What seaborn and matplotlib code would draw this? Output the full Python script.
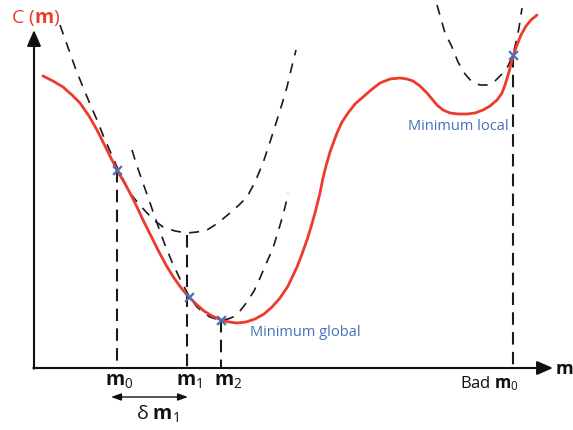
import matplotlib
matplotlib.use("Agg")
import matplotlib.pyplot as plt
import seaborn as sns

sns.set_theme(style="white")
plt.rcParams['font.family'] = ['Open Sans', 'DejaVu Sans']
plt.rcParams['mathtext.fontset'] = 'custom'
plt.rcParams['mathtext.rm'] = 'Open Sans'
plt.rcParams['mathtext.bf'] = 'Open Sans:bold'
plt.rcParams['mathtext.it'] = 'Open Sans:italic'

# Misfit curve C(m) (diagram coordinates, y grows downward)
curve_x = [43, 53, 63, 72, 80, 89, 97, 107, 117, 124, 130, 137, 143, 150, 158, 166, 174,
           182, 189, 196, 204, 212, 221, 229, 237, 246, 255, 264, 272, 280, 288, 297, 302,
           307, 311, 315, 320, 323, 326, 330, 334, 337, 342, 348, 355, 363, 371, 380, 390, 400,
           407, 413, 420, 427, 432, 437, 443, 450, 458, 467, 475, 483, 490, 497, 502, 505,
           509, 513, 517, 521, 526, 531, 537]
curve_y = [76, 81, 87, 95, 103, 116, 130, 150, 170, 182, 193, 207, 220, 234, 250, 265, 278,
           289, 297, 304, 311, 316, 320, 322, 323, 322, 319, 314, 307, 298, 286, 267, 254,
           240, 227, 213, 193, 178, 166, 152, 141, 133, 122, 113, 104, 97, 90, 83, 79, 78,
           79, 81, 86, 93, 99, 105, 110, 113, 114, 114, 113, 110, 106, 100, 93, 85,
           72, 56, 45, 35, 26, 20, 15]

# Quadratic approximations (dashed)
par1_x = [60, 65, 70, 76, 83, 90, 97, 103, 110, 117, 124, 130, 138, 147, 155, 163, 175, 187,
          197, 207, 218, 230, 239, 247, 255, 263, 270, 277, 282, 287, 291, 296]
par1_y = [25, 39, 53, 70, 87, 104, 120, 135, 151, 167, 181, 193, 203, 213, 221, 227, 231, 233,
          232, 230, 223, 213, 205, 197, 182, 163, 142, 120, 104, 87, 70, 50]
par2_x = [132, 137, 143, 150, 157, 165, 172, 180, 189, 197, 204, 210, 216, 222, 228, 233, 240,
          247, 254, 260, 266, 273, 278, 283, 286, 288]
par2_y = [150, 166, 183, 203, 223, 245, 262, 279, 296, 307, 313, 317, 319, 320, 319, 317, 311,
          302, 291, 278, 264, 248, 232, 215, 203, 193]
par3_x = [437, 441, 445, 452, 458, 465, 472, 480, 488, 494, 498, 503, 508, 513, 516, 519, 522]
par3_y = [5, 19, 33, 47, 62, 74, 82, 85, 85, 82, 78, 73, 66, 55, 42, 28, 8]

# Iterates
pts_x = [117, 189, 221, 513]
pts_y = [170, 297, 320, 55]
drop_top = [170, 235, 320, 55]
drop_x = [117, 187, 221, 513]
axis_y = 368
axis_x = 34

red = "#ec3b2c"
blue = "#4470bd"
ink = "#1a1a1a"

fig = plt.figure(figsize=(5.73, 4.30), dpi=100)
ax = fig.add_axes([0, 0, 1, 1])
ax.set_xlim(0, 573)
ax.set_ylim(430, 0)
ax.axis("off")

for px, py in [(par1_x, par1_y), (par2_x, par2_y), (par3_x, par3_y)]:
    sns.lineplot(x=px, y=py, sort=False, ax=ax, color=ink, lw=1.2,
                 linestyle=(0, (6, 5)), estimator=None)

for dx, dt in zip(drop_x, drop_top):
    sns.lineplot(x=[dx, dx], y=[dt, axis_y], sort=False, ax=ax, color=ink,
                 lw=1.5, linestyle=(0, (6, 3.5)), estimator=None)

sns.lineplot(x=curve_x, y=curve_y, sort=False, ax=ax, color=red, lw=2.0, estimator=None)
for l in ax.lines:
    l.set_solid_joinstyle("round")
    l.set_solid_capstyle("round")
sns.scatterplot(x=pts_x, y=pts_y, ax=ax, marker="x", color=blue, s=40, linewidth=1.6, zorder=5)

# axes arrows
arrow = dict(arrowstyle="-|>,head_length=0.8,head_width=0.35", color="#111111", lw=1.5,
             shrinkA=0, shrinkB=0)
ax.annotate("", xy=(axis_x, 30), xytext=(axis_x, axis_y + 0.7), arrowprops=arrow)
ax.annotate("", xy=(553, axis_y), xytext=(axis_x - 0.7, axis_y), arrowprops=arrow)

ax.text(11, 18, r"C ($\mathbf{m}$)", color=red, fontsize=14, ha="left", va="center")
ax.text(555, 369, r"$\mathbf{m}$", color="#111111", fontsize=13, ha="left", va="center")

lab_kw = dict(color="#111111", fontsize=14, ha="center", va="center")
ax.text(119, 381, r"$\mathbf{m}_0$", **lab_kw)
ax.text(189, 381, r"$\mathbf{m}_1$", **lab_kw)
ax.text(228, 381, r"$\mathbf{m}_2$", **lab_kw)
ax.text(490, 384, r"Bad $\mathbf{m}_0$", color="#111111", fontsize=12, ha="center", va="center")

ax.annotate("", xy=(188, 397), xytext=(111, 397),
            arrowprops=dict(arrowstyle="<|-|>,head_length=0.5,head_width=0.18",
                            color="#111111", lw=1.0, shrinkA=0, shrinkB=0))
ax.text(157, 413, r"δ $\mathbf{m}_1$", color="#111111", fontsize=14, ha="center", va="center")

ax.text(250, 332, "Minimum global", color=blue, fontsize=10.5, ha="left", va="center")
ax.text(408, 127, "Minimum local", color=blue, fontsize=10.5, ha="left", va="center")

fig.savefig("out.png", dpi=100)
